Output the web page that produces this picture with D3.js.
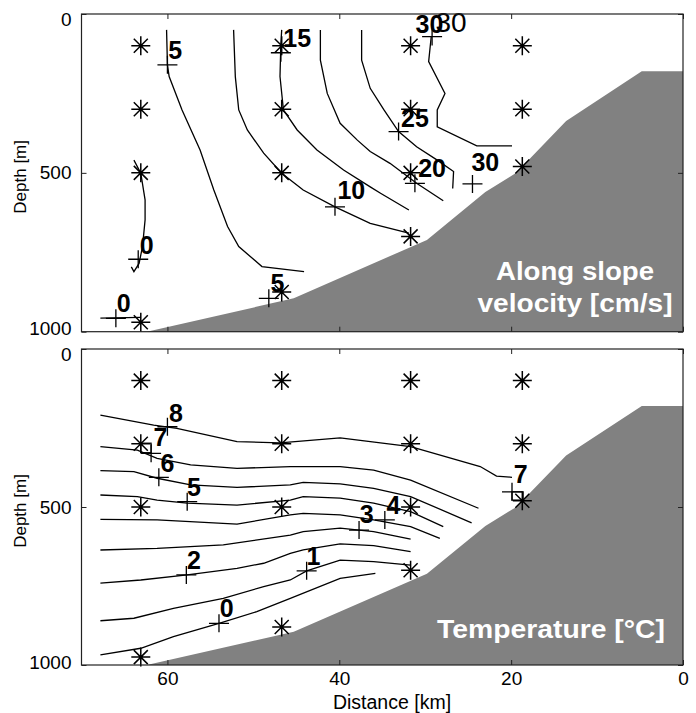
<!DOCTYPE html>
<html>
<head>
<meta charset="utf-8">
<script src="https://cdn.jsdelivr.net/npm/d3@7"></script>
<style>
  body { margin: 0; background: #fff; }
  svg { display: block; }
</style>
</head>
<body>
<script>
// ---- data (km from coast, depth in m) ----
const stationKm = [63.1, 46.7, 31.7, 18.7];
const velStationDepths = [[100, 300, 500, 970], [100, 300, 500, 875], [100, 300, 500, 700], [100, 300, 480]];
const tempStationDepths = [[100, 300, 500, 975], [100, 300, 500, 880], [100, 300, 500, 700], [100, 300, 480]];

const bathyKm = [62.4, 45.3, 29.8, 23.0, 19.4, 13.6, 4.8, 0];
const bathyDepth = [1000, 895, 711, 560, 500, 337, 180, 180];

const xTicks = [60, 40, 20, 0];
const yTicks = [0, 500, 1000];

// velocity contours [cm/s]
const v0a = [[63.9, 460], [63.1, 501], [62.6, 585], [62.6, 648], [62.9, 732], [63.3, 785], [63.9, 811], [64.2, 796]];
const v0b = [[67.8, 957], [63.1, 955]];
const v5 = [[60.1, 50], [60.0, 160], [59.8, 197], [58.3, 302], [56.2, 428], [54.6, 554], [53.0, 669], [51.7, 732], [49.0, 795], [44.1, 811]];
const v10 = [[52.3, 50], [52.1, 197], [51.7, 302], [50.7, 365], [48.8, 438], [46.7, 501], [44.2, 554], [40.5, 607], [36.4, 659], [31.9, 690]];
const v15 = [[46.7, 50], [46.8, 92], [46.9, 197], [46.5, 302], [44.9, 365], [42.6, 428], [39.5, 491], [36.4, 544], [35.2, 564], [31.9, 617]];
const v20 = [[42.2, 50], [42.2, 145], [41.4, 250], [39.9, 344], [37.9, 397], [36.4, 433], [34.1, 470], [31.0, 533], [27.9, 588]];
const v25 = [[37.4, 50], [37.4, 145], [36.4, 234], [34.8, 302], [33.1, 370], [31.0, 418], [28.6, 460], [26.7, 496], [26.8, 549]];
const v30 = [[29.3, 71], [29.6, 150], [27.7, 250], [28.6, 302], [28.6, 355], [24.0, 415], [19.9, 415]];
const velLines = [v0a, v0b, v5, v10, v15, v20, v25, v30];

const velLabels = [["5", 59.1, 113], ["15", 44.9, 77], ["10", 38.6, 554], ["25", 31.2, 328], ["20", 29.2, 486],
  ["30", 23.0, 465], ["30", 29.5, 31], ["0", 62.4, 727], ["0", 65.1, 911], ["5", 47.2, 848]];
const velMarks = [[60.0, 160], [46.8, 122], [40.5, 607], [33.1, 370], [31.2, 533], [24.5, 535], [29.2, 71],
  [63.4, 772], [66.0, 958], [48.2, 895]];
const velExtraLabel = ["30", 27.0, 24]; // plain-weight duplicate label at the top

// temperature contours [deg C]
const t8 = [[67.8, 209], [61.6, 241], [58.9, 251], [51.9, 293], [46.9, 297], [39.9, 281], [31.7, 309], [23.6, 372], [21.7, 402], [19.9, 406]];
const t7 = [[67.8, 309], [63.5, 320], [61.2, 346], [57.3, 367], [51.9, 378], [45.7, 372], [39.9, 372], [36.0, 383], [31.7, 415], [23.8, 504]];
const t6 = [[67.8, 385], [63.9, 388], [61.2, 409], [57.3, 430], [51.9, 438], [45.7, 430], [44.2, 422], [39.9, 427], [36.0, 441], [31.7, 467], [24.6, 550]];
const t5 = [[67.8, 462], [63.5, 467], [61.2, 478], [57.7, 488], [51.9, 494], [45.7, 478], [44.2, 467], [39.9, 472], [36.0, 488], [31.7, 515], [27.9, 562]];
const t4 = [[67.8, 539], [61.2, 541], [51.9, 554], [45.7, 525], [44.2, 520], [39.9, 525], [36.0, 541], [31.7, 562], [28.3, 599]];
const t3 = [[67.8, 636], [61.2, 631], [53.5, 620], [45.7, 589], [44.2, 578], [39.9, 567], [36.0, 578], [31.7, 602]];
const t2 = [[67.8, 741], [63.1, 731], [57.7, 715], [51.9, 694], [48.8, 678], [45.7, 647], [44.2, 636], [39.9, 617], [36.0, 622], [31.7, 641]];
const t1 = [[67.8, 860], [63.9, 852], [59.3, 821], [53.5, 789], [48.8, 752], [45.7, 731], [43.8, 702], [39.9, 668], [36.0, 673], [31.7, 684]];
const t0 = [[67.8, 968], [63.1, 947], [59.3, 910], [54.0, 868], [49.6, 831], [45.7, 789], [39.9, 726], [35.8, 710]];
const tempLines = [t8, t7, t6, t5, t4, t3, t2, t1, t0];

const tempLabels = [["8", 59.0, 204], ["7", 60.8, 277], ["6", 60.0, 362], ["5", 56.9, 436], ["4", 33.7, 494],
  ["3", 36.8, 522], ["2", 56.9, 668], ["1", 43.0, 655], ["0", 53.1, 820], ["7", 18.9, 396]];
const tempMarks = [[60.0, 246], [61.9, 330], [61.0, 406], [57.7, 483], [34.7, 541], [37.7, 573], [57.8, 715],
  [43.8, 702], [54.0, 868], [19.9, 452]];
const tempBoxes = [[63.1, 298, 61.9, 328], [19.9, 452, 18.6, 478]];

// ---- layout ----
const W = 696, H = 713;
const FONT = "'Liberation Sans', Arial, sans-serif";
const x = d3.scaleLinear([70, 0], [81.5, 683]);

const svg = d3.select("body").append("svg")
    .attr("width", W)
    .attr("height", H)
    .attr("font-family", FONT);

function panel(yRange, o) {
    const y = d3.scaleLinear([0, 1000], yRange);
    const g = svg.append("g");
    const line = d3.line().x(d => x(d[0])).y(d => y(d[1]));

    // sea floor
    const poly = bathyKm.map((k, i) => [k, bathyDepth[i]]).concat([[0, 1000]]);
    g.append("path")
        .attr("d", line(poly) + "Z")
        .attr("fill", "#818181");

    g.selectAll(".ct").data(o.lines).join("path")
        .attr("d", line)
        .attr("fill", "none")
        .attr("stroke", "#000")
        .attr("stroke-width", 1.3);

    // stations
    const stars = stationKm.flatMap((k, i) => o.depths[i].map(d => [k, d]));
    g.selectAll(".st").data(stars).join("path")
        .attr("transform", d => `translate(${x(d[0])},${y(d[1])})`)
        .attr("d", "M-9.5,0H9.5M0,-9.5V9.5M-7,-7L7,7M-7,7L7,-7")
        .attr("stroke", "#000")
        .attr("stroke-width", 1.5);

    g.selectAll(".pl").data(o.marks).join("path")
        .attr("transform", d => `translate(${x(d[0])},${y(d[1])})`)
        .attr("d", "M-10,0H10M0,-9V9")
        .attr("stroke", "#000")
        .attr("stroke-width", 1.3);

    g.selectAll(".bx").data(o.boxes || []).join("rect")
        .attr("x", d => x(d[0]))
        .attr("y", d => y(d[1]))
        .attr("width", d => x(d[2]) - x(d[0]))
        .attr("height", d => y(d[3]) - y(d[1]))
        .attr("fill", "none")
        .attr("stroke", "#000")
        .attr("stroke-width", 1.2);

    g.selectAll(".lb").data(o.labels).join("text")
        .attr("x", d => x(d[1]))
        .attr("y", d => y(d[2]))
        .attr("dy", "0.36em")
        .attr("text-anchor", "middle")
        .attr("font-size", 25)
        .attr("font-weight", "bold")
        .text(d => d[0]);

    if (o.extra) {
        g.append("text")
            .attr("x", x(o.extra[1]))
            .attr("y", y(o.extra[2]))
            .attr("dy", "0.36em")
            .attr("text-anchor", "middle")
            .attr("font-size", 28)
            .text(o.extra[0]);
    }

    // white caption inside the sea floor
    o.title.forEach((t, i) => {
        g.append("text")
            .attr("x", o.titleX)
            .attr("y", o.titleY + i * 32)
            .attr("text-anchor", "middle")
            .attr("font-size", 25)
            .attr("font-weight", "bold")
            .attr("fill", "#fff")
            .attr("textLength", o.titleW[i])
            .attr("lengthAdjust", "spacingAndGlyphs")
            .text(t);
    });

    // axes, ticks pointing inward
    const x0 = x.range()[0], x1 = x.range()[1];
    const ax = (a, tx, ty, fmt, pad) => g.append("g")
        .attr("transform", `translate(${tx},${ty})`)
        .call(a.tickSizeInner(-5).tickSizeOuter(0).tickPadding(pad).tickFormat(fmt))
        .call(s => s.select(".domain").remove())
        .call(s => s.selectAll("line").attr("stroke", "#222"))
        .call(s => s.selectAll("text").attr("font-size", 19).attr("font-family", FONT).attr("fill", "#000"));

    // matlab nudges the end labels inside the axis span
    ax(d3.axisLeft(y).tickValues(yTicks), x0, 0, d3.format("d"), 10)
        .selectAll("text")
        .attr("dy", d => d === 0 ? "0.62em" : d === 1000 ? "0.16em" : "0.32em");
    ax(d3.axisRight(y).tickValues(yTicks), x1, 0, () => "", 10);
    ax(d3.axisTop(x).tickValues(xTicks), 0, yRange[0], () => "", 8);
    ax(d3.axisBottom(x).tickValues(xTicks), 0, yRange[1], o.xLabels ? d3.format("d") : () => "", 7);

    g.append("rect")
        .attr("x", x0).attr("y", yRange[0])
        .attr("width", x1 - x0).attr("height", yRange[1] - yRange[0])
        .attr("fill", "none")
        .attr("stroke", "#222")
        .attr("stroke-width", 1.2);

    g.append("text")
        .attr("transform", `translate(26,${(yRange[0] + yRange[1]) / 2 + 4}) rotate(-90)`)
        .attr("text-anchor", "middle")
        .attr("font-size", 17)
        .text("Depth [m]");
}

panel([14, 331.7], {
    lines: velLines, depths: velStationDepths, marks: velMarks, labels: velLabels,
    extra: velExtraLabel,
    title: ["Along slope", "velocity [cm/s]"], titleX: 575, titleY: 280, titleW: [158, 195]
});

panel([349, 665], {
    lines: tempLines, depths: tempStationDepths, marks: tempMarks, labels: tempLabels,
    boxes: tempBoxes, xLabels: true,
    title: ["Temperature [°C]"], titleX: 551, titleY: 638, titleW: [228]
});

svg.append("text")
    .attr("x", 392)
    .attr("y", 709)
    .attr("text-anchor", "middle")
    .attr("font-size", 19.5)
    .text("Distance [km]");
</script>
</body>
</html>
